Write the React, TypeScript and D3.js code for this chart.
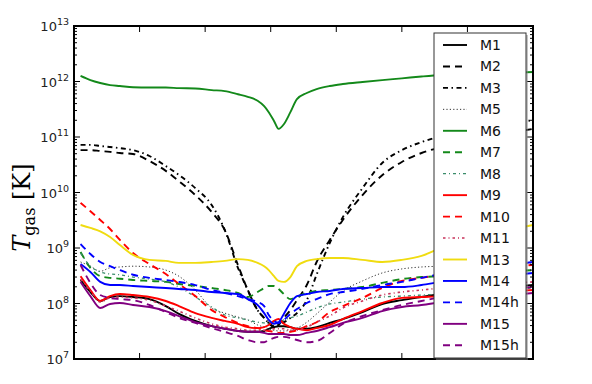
import React from "react";
import * as d3 from "d3";

// x positions of the samples (arbitrary units, 0..7 across the frame)
const xGrid = [0.1, 0.25, 0.4, 0.55, 0.7, 0.9, 1.15, 1.4, 1.6, 1.85, 2.1, 2.3, 2.5, 2.65, 2.8, 2.9, 2.97, 3.05, 3.12, 3.2, 3.3, 3.4, 3.55, 3.7, 3.9, 4.1, 4.4, 4.7, 5.0, 5.3, 5.6, 6.0, 6.5, 7.0];

// T_gas [K]
const m1 = [2.65e8, 1.61e8, 1.11e8, 1.31e8, 1.36e8, 1.31e8, 1.2e8, 9.0e7, 6.5e7, 4.85e7, 3.9e7, 3.5e7, 3.2e7, 3.1e7, 3.1e7, 3.2e7, 3.5e7, 3.75e7, 3.9e7, 3.9e7, 3.75e7, 3.5e7, 3.5e7, 3.75e7, 4.46e7, 5.25e7, 7.0e7, 9.8e7, 1.15e8, 1.31e8, 1.48e8, 1.68e8, 1.9e8, 2.15e8];
const m2 = [5.8e10, 5.8e10, 5.6e10, 5.4e10, 5.15e10, 4.95e10, 3.7e10, 2.45e10, 1.6e10, 9.0e9, 4.45e9, 2.1e9, 4.95e8, 1.75e8, 7.6e7, 5.5e7, 4.45e7, 3.75e7, 4.1e7, 5.5e7, 7.6e7, 1.15e8, 2.15e8, 5.6e8, 1.4e9, 3.2e9, 9.0e9, 2.05e10, 3.55e10, 5.15e10, 6.6e10, 8.8e10, 1.11e11, 1.4e11];
const m3 = [7.2e10, 7.2e10, 6.9e10, 6.6e10, 6.3e10, 5.8e10, 4.55e10, 3.0e10, 2.07e10, 1.2e10, 5.95e9, 2.1e9, 4.4e8, 1.75e8, 7.6e7, 5.5e7, 4.45e7, 3.9e7, 4.3e7, 4.6e7, 5.5e7, 6.7e7, 1.15e8, 3.3e8, 1.23e9, 3.6e9, 1.2e10, 3.4e10, 5.8e10, 8.1e10, 1.04e11, 1.34e11, 1.71e11, 2.0e11];
const m5 = [5.6e8, 4.7e8, 3.8e8, 4.4e8, 4.55e8, 4.7e8, 4.55e8, 4.0e8, 3.1e8, 1.75e8, 8.3e7, 6.7e7, 5.7e7, 5.05e7, 4.1e7, 3.75e7, 3.5e7, 3.3e7, 3.2e7, 3.2e7, 3.3e7, 3.6e7, 4.6e7, 6.5e7, 1.06e8, 1.68e8, 2.55e8, 3.55e8, 4.2e8, 4.55e8, 4.7e8, 4.95e8, 5.15e8, 5.4e8];
const m6 = [1.26e12, 1.06e12, 9.4e11, 8.6e11, 8.3e11, 7.9e11, 7.8e11, 7.8e11, 7.6e11, 7.5e11, 7.0e11, 6.7e11, 5.9e11, 5.3e11, 4.5e11, 3.6e11, 2.8e11, 1.95e11, 1.4e11, 1.7e11, 2.8e11, 4.8e11, 6.2e11, 7.3e11, 8.3e11, 9.0e11, 9.8e11, 1.06e12, 1.14e12, 1.23e12, 1.31e12, 1.36e12, 1.41e12, 1.48e12];
const m7 = [8.5e8, 4.4e8, 3.1e8, 2.9e8, 2.8e8, 2.65e8, 2.55e8, 2.45e8, 2.25e8, 2.07e8, 1.9e8, 1.75e8, 1.55e8, 1.31e8, 1.61e8, 1.9e8, 2.07e8, 2.07e8, 1.83e8, 1.48e8, 1.2e8, 1.31e8, 1.55e8, 1.68e8, 1.75e8, 1.83e8, 1.98e8, 2.35e8, 2.75e8, 3.0e8, 3.1e8, 3.4e8, 3.7e8, 4.0e8];
const m8 = [8.1e8, 4.7e8, 3.7e8, 3.4e8, 3.3e8, 3.0e8, 2.75e8, 2.45e8, 1.98e8, 1.31e8, 8.65e7, 6.2e7, 5.5e7, 5.05e7, 4.6e7, 4.46e7, 4.3e7, 4.46e7, 4.6e7, 5.05e7, 5.5e7, 5.95e7, 7.0e7, 8.3e7, 9.8e7, 1.06e8, 1.2e8, 1.31e8, 1.36e8, 1.42e8, 1.48e8, 1.61e8, 1.75e8, 1.9e8];
const m9 = [3.1e8, 1.75e8, 1.11e8, 1.36e8, 1.48e8, 1.42e8, 1.31e8, 1.11e8, 9.0e7, 6.7e7, 5.5e7, 4.85e7, 4.3e7, 3.75e7, 3.6e7, 3.75e7, 4.1e7, 4.85e7, 5.25e7, 4.3e7, 3.75e7, 3.5e7, 3.3e7, 3.6e7, 4.1e7, 5.25e7, 7.3e7, 1.02e8, 1.26e8, 1.31e8, 1.36e8, 1.48e8, 1.61e8, 1.75e8];
const m10 = [6.5e9, 4.6e9, 3.2e9, 2.2e9, 1.4e9, 8.1e8, 5.15e8, 3.4e8, 2.25e8, 1.36e8, 7.6e7, 5.7e7, 4.46e7, 3.9e7, 3.6e7, 3.3e7, 3.2e7, 3.1e7, 2.95e7, 2.95e7, 3.1e7, 3.3e7, 3.9e7, 4.6e7, 7.0e7, 9.0e7, 1.26e8, 1.9e8, 2.55e8, 2.9e8, 3.3e8, 3.7e8, 4.4e8, 4.95e8];
const m11 = [2.75e8, 1.68e8, 1.06e8, 1.26e8, 1.31e8, 1.26e8, 1.15e8, 9.0e7, 7.3e7, 5.5e7, 4.3e7, 3.75e7, 3.5e7, 3.3e7, 3.3e7, 3.3e7, 3.3e7, 3.5e7, 3.5e7, 3.5e7, 3.3e7, 3.3e7, 3.75e7, 4.6e7, 5.95e7, 8.3e7, 1.11e8, 1.42e8, 1.61e8, 1.75e8, 1.9e8, 2.07e8, 2.25e8, 2.45e8];
const m13 = [2.6e9, 2.3e9, 2.0e9, 1.58e9, 1.13e9, 7.5e8, 6.1e8, 5.85e8, 5.4e8, 5.4e8, 5.6e8, 5.85e8, 6.3e8, 6.1e8, 5.4e8, 4.7e8, 4.0e8, 3.1e8, 2.55e8, 2.45e8, 3.0e8, 4.7e8, 5.85e8, 6.3e8, 6.6e8, 6.6e8, 6.1e8, 5.6e8, 6.1e8, 7.2e8, 1.0e9, 1.4e9, 1.95e9, 2.6e9];
const m14 = [5.15e8, 3.7e8, 2.45e8, 2.15e8, 2.15e8, 2.07e8, 1.98e8, 1.9e8, 1.83e8, 1.75e8, 1.61e8, 1.55e8, 1.48e8, 1.2e8, 9.4e7, 6.7e7, 5.05e7, 4.3e7, 4.6e7, 6.5e7, 1.02e8, 1.36e8, 1.48e8, 1.61e8, 1.68e8, 1.83e8, 1.9e8, 1.98e8, 1.98e8, 2.15e8, 2.45e8, 2.75e8, 3.1e8, 3.55e8];
const m14h = [1.18e9, 7.8e8, 5.6e8, 4.7e8, 4.0e8, 3.3e8, 2.9e8, 2.65e8, 2.45e8, 2.15e8, 1.75e8, 1.55e8, 1.36e8, 1.2e8, 1.06e8, 9.0e7, 6.2e7, 4.85e7, 4.46e7, 5.05e7, 6.5e7, 7.94e7, 1.02e8, 1.2e8, 1.48e8, 1.61e8, 1.83e8, 2.15e8, 2.45e8, 2.9e8, 3.4e8, 4.0e8, 4.7e8, 5.6e8];
const m15 = [2.45e8, 1.36e8, 8.3e7, 9.8e7, 1.02e8, 9.4e7, 8.65e7, 7.3e7, 5.95e7, 4.6e7, 3.9e7, 3.5e7, 3.2e7, 3.1e7, 3.1e7, 2.95e7, 2.82e7, 2.82e7, 2.82e7, 2.82e7, 2.7e7, 2.7e7, 2.95e7, 3.2e7, 3.75e7, 4.46e7, 5.5e7, 7.3e7, 8.65e7, 9.4e7, 1.06e8, 1.2e8, 1.36e8, 1.55e8];
const m15h = [4.95e8, 2.35e8, 1.42e8, 1.26e8, 1.2e8, 1.15e8, 9.4e7, 7.0e7, 5.5e7, 4.46e7, 3.6e7, 3.07e7, 2.6e7, 2.2e7, 2.0e7, 2.0e7, 2.2e7, 2.4e7, 2.5e7, 2.5e7, 2.4e7, 2.2e7, 2.0e7, 2.1e7, 2.95e7, 4.3e7, 5.95e7, 7.6e7, 9.4e7, 1.11e8, 1.31e8, 1.55e8, 1.75e8, 1.98e8];

const seriesNames = ["M1", "M2", "M3", "M5", "M6", "M7", "M8", "M9", "M10", "M11", "M13", "M14", "M14h", "M15", "M15h"];
const seriesValues = [m1, m2, m3, m5, m6, m7, m8, m9, m10, m11, m13, m14, m14h, m15, m15h];

const yTickExps = [7, 8, 9, 10, 11, 12, 13];

const DASH = "7,5";
const DASHDOT = "5,3.5,1.5,3.5";
const styles = [
  { color: "#000000", dash: null, w: 1.9 },
  { color: "#000000", dash: DASH, w: 1.9 },
  { color: "#000000", dash: DASHDOT, w: 1.9 },
  { color: "#333333", dash: "1.2,2.2", w: 1 },
  { color: "#13891a", dash: null, w: 1.9 },
  { color: "#13891a", dash: DASH, w: 1.9 },
  { color: "#3a8c6a", dash: "3,3,1,3", w: 1.3 },
  { color: "#ff0000", dash: null, w: 1.9 },
  { color: "#ff0000", dash: DASH, w: 1.9 },
  { color: "#c8325a", dash: "2.5,3,1,3", w: 1.6 },
  { color: "#f0dc10", dash: null, w: 1.9 },
  { color: "#0000ff", dash: null, w: 1.9 },
  { color: "#0000ff", dash: DASH, w: 1.9 },
  { color: "#800080", dash: null, w: 1.9 },
  { color: "#800080", dash: DASH, w: 1.9 },
];

const W = 592;
const H = 384;
const margin = { top: 26, right: 59, bottom: 25, left: 74 };

export default function App() {
  const x = d3.scaleLinear().domain([0, 7]).range([margin.left, W - margin.right]);
  const y = d3.scaleLog().domain([1e7, 1e13]).range([H - margin.bottom, margin.top]);
  const [x0, x1] = x.range();
  const [y0, y1] = y.range();

  const line = d3
    .line<[number, number]>()
    .x((d) => x(d[0]))
    .y((d) => y(d[1]))
    .curve(d3.curveMonotoneX);

  const xTicks = d3.range(1, 7);
  const minorTicks: number[] = [];
  for (let e = 7; e < 13; e++) for (let k = 2; k < 10; k++) minorTicks.push(k * Math.pow(10, e));

  const legX = 434;
  const legY = 33;
  const legW = 92;
  const legH = 325;
  const rowH = 21.45;

  return (
    <svg width={W} height={H} style={{ position: "absolute", left: 0, top: 0 }} fontFamily="DejaVu Sans">
      <rect width={W} height={H} fill="#fff" />
      <defs>
        <clipPath id="plot">
          <rect x={x0} y={y1} width={x1 - x0} height={y0 - y1} />
        </clipPath>
      </defs>

      <g clipPath="url(#plot)">
        {seriesValues.map((vals, i) => (
          <path
            key={seriesNames[i]}
            d={line(xGrid.map((xv, j) => [xv, vals[j]]) as [number, number][]) || ""}
            fill="none"
            stroke={styles[i].color}
            strokeWidth={styles[i].w}
            strokeDasharray={styles[i].dash || undefined}
            strokeLinejoin="round"
          />
        ))}
      </g>

      {/* ticks */}
      <g stroke="#000" strokeWidth={1}>
        {xTicks.map((t) => (
          <g key={"x" + t}>
            <line x1={x(t)} x2={x(t)} y1={y0} y2={y0 - 6} />
            <line x1={x(t)} x2={x(t)} y1={y1} y2={y1 + 6} />
          </g>
        ))}
        {yTickExps.map((e) => (
          <g key={"y" + e}>
            <line x1={x0} x2={x0 + 6} y1={y(Math.pow(10, e))} y2={y(Math.pow(10, e))} />
            <line x1={x1} x2={x1 - 6} y1={y(Math.pow(10, e))} y2={y(Math.pow(10, e))} />
          </g>
        ))}
        {minorTicks.map((v, i) => (
          <g key={"m" + i}>
            <line x1={x0} x2={x0 + 3} y1={y(v)} y2={y(v)} />
            <line x1={x1} x2={x1 - 3} y1={y(v)} y2={y(v)} />
          </g>
        ))}
      </g>

      <rect x={x0} y={y1} width={x1 - x0} height={y0 - y1} fill="none" stroke="#000" strokeWidth={2} />

      {yTickExps.map((e) => (
        <text key={"l" + e} x={x0 - 5} y={y(Math.pow(10, e)) + 5} textAnchor="end" fontSize={13} fill="#222">
          10<tspan dy={-6} fontSize={9.5}>{e}</tspan>
        </text>
      ))}

      <text
        transform={`translate(30,${(y0 + y1) / 2 + 15}) rotate(-90)`}
        textAnchor="middle"
        fontFamily="DejaVu Serif"
        fontSize={24}
        fill="#000"
      >
        <tspan fontStyle="italic">T</tspan>
        <tspan fontSize={16} dy={5}>gas</tspan>
        <tspan dy={-5}> [K]</tspan>
      </text>

      {/* legend */}
      <rect x={legX + 2} y={legY + 2} width={legW} height={legH} fill="#888" opacity={0.5} />
      <rect x={legX} y={legY} width={legW} height={legH} fill="#fff" stroke="#333" strokeWidth={1} />
      {seriesNames.map((n, i) => {
        const cy = legY + 12 + i * rowH;
        return (
          <g key={"leg" + n}>
            <line
              x1={legX + 9}
              x2={legX + 33}
              y1={cy}
              y2={cy}
              stroke={styles[i].color}
              strokeWidth={styles[i].w}
              strokeDasharray={styles[i].dash || undefined}
            />
            <text x={legX + 46} y={cy + 5} fontSize={14} fill="#111">
              {n}
            </text>
          </g>
        );
      })}
    </svg>
  );
}
